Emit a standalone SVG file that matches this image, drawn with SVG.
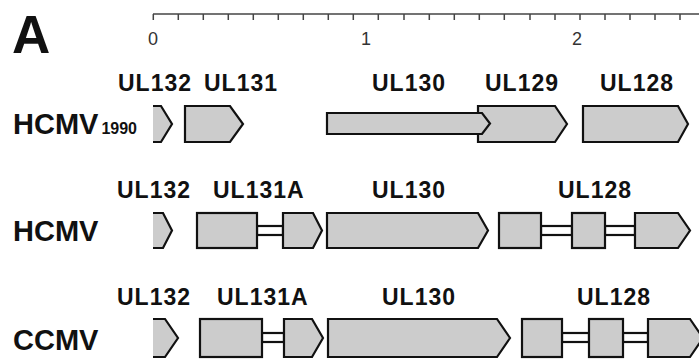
<svg xmlns="http://www.w3.org/2000/svg" width="699" height="360" viewBox="0 0 699 360">
<style>
.g{fill:#cccccc;stroke:#111;stroke-width:2.2;stroke-linejoin:miter}
.gf{fill:#cccccc;stroke:none}
.gs{fill:none;stroke:#111;stroke-width:2.2}
.intr{fill:#ffffff;stroke:#111;stroke-width:2.2}
.lab{font-family:"Liberation Sans",Arial,sans-serif;font-weight:bold;font-size:23px;letter-spacing:1px;fill:#111}
.row{font-family:"Liberation Sans",Arial,sans-serif;font-weight:bold;font-size:29px;fill:#111}
.ax{font-family:"Liberation Sans",Arial,sans-serif;font-size:18px;fill:#333;text-anchor:middle}
.tick{stroke:#444;stroke-width:1.5}
</style>
<rect width="699" height="360" fill="#ffffff"/>
<text x="12" y="53" font-family="Liberation Sans,Arial,sans-serif" font-weight="bold" font-size="53" fill="#111">A</text>
<g id="scale">
<line class="tick" x1="153" y1="14" x2="699" y2="14"/>
<path class="tick" d="M153.3 14V20M178.3 14V20M203.3 14V20M228.3 14V20M253.3 14V20M278.3 14V20M303.3 14V20M328.3 14V20M353.3 14V20M378.3 14V20M404 14V20M429.3 14V20M454.3 14V20M479.3 14V20M504.3 14V20M530 14V20M555 14V20M580 14V20M605 14V20M630 14V20M655 14V20M680 14V20"/>
<text class="ax" x="153" y="45">0</text>
<text class="ax" x="366" y="45">1</text>
<text class="ax" x="577" y="45">2</text>
</g>
<g id="connectors">
<rect class="intr" x="257" y="226" width="26" height="9"/>
<rect class="intr" x="541" y="226" width="31" height="9"/>
<rect class="intr" x="605" y="226" width="30" height="9"/>
<rect class="intr" x="262" y="333" width="22" height="9"/>
<rect class="intr" x="562" y="333" width="27" height="9"/>
<rect class="intr" x="623" y="333" width="25" height="9"/>
</g>
<g id="row1">
<text class="row" x="13" y="134">HCMV<tspan font-size="16" dx="3">1990</tspan></text>
<g id="r1-UL132"><text class="lab" x="118" y="91">UL132</text>
<polygon class="gf" points="153,106 161,106 172,124 161,142 153,142"/>
<polyline class="gs" points="153,106 161,106 172,124 161,142 153,142"/></g>
<g id="r1-UL131"><text class="lab" x="204" y="91">UL131</text>
<polygon class="g" points="185,106 230,106 243,124 230,142 185,142"/></g>
<g id="r1-UL129"><text class="lab" x="485" y="91">UL129</text>
<polygon class="g" points="478,106 555,106 567,124 555,142 478,142"/></g>
<g id="r1-UL130"><text class="lab" x="372" y="91">UL130</text>
<polygon class="g" points="327,113 482,113 490,123.5 482,134 327,134"/></g>
<g id="r1-UL128"><text class="lab" x="600" y="91">UL128</text>
<polygon class="g" points="583,106 678,106 688,124 678,142 583,142"/></g>
</g>
<g id="row2">
<text class="row" x="13" y="241">HCMV</text>
<g id="r2-UL132"><text class="lab" x="117" y="198">UL132</text>
<polygon class="gf" points="153,213 163,213 172,230.5 163,248 153,248"/>
<polyline class="gs" points="153,213 163,213 172,230.5 163,248 153,248"/></g>
<g id="r2-UL131A"><text class="lab" x="213" y="198">UL131A</text>
<rect class="g" x="197" y="213" width="60" height="35"/>
<polygon class="g" points="283,213 313,213 322,230.5 313,248 283,248"/></g>
<g id="r2-UL130"><text class="lab" x="372" y="198">UL130</text>
<polygon class="g" points="327,213 478,213 488,230.5 478,248 327,248"/></g>
<g id="r2-UL128"><text class="lab" x="558" y="198">UL128</text>
<rect class="g" x="499" y="213" width="42" height="35"/>
<rect class="g" x="572" y="213" width="33" height="35"/>
<polygon class="g" points="635,213 678,213 690,230.5 678,248 635,248"/></g>
</g>
<g id="row3">
<text class="row" x="13" y="350">CCMV</text>
<g id="r3-UL132"><text class="lab" x="117" y="305">UL132</text>
<polygon class="gf" points="153,319 165,319 178,338 165,357 153,357"/>
<polyline class="gs" points="153,319 165,319 178,338 165,357 153,357"/></g>
<g id="r3-UL131A"><text class="lab" x="217" y="305">UL131A</text>
<rect class="g" x="200" y="319" width="62" height="38"/>
<polygon class="g" points="284,319 312,319 323,338 312,357 284,357"/></g>
<g id="r3-UL130"><text class="lab" x="382" y="305">UL130</text>
<polygon class="g" points="328,319 497,319 510,338 497,357 328,357"/></g>
<g id="r3-UL128"><text class="lab" x="577" y="305">UL128</text>
<rect class="g" x="522" y="319" width="40" height="38"/>
<rect class="g" x="589" y="319" width="34" height="38"/>
<polygon class="g" points="648,319 690,319 703,338 690,357 648,357"/></g>
</g>
</svg>
